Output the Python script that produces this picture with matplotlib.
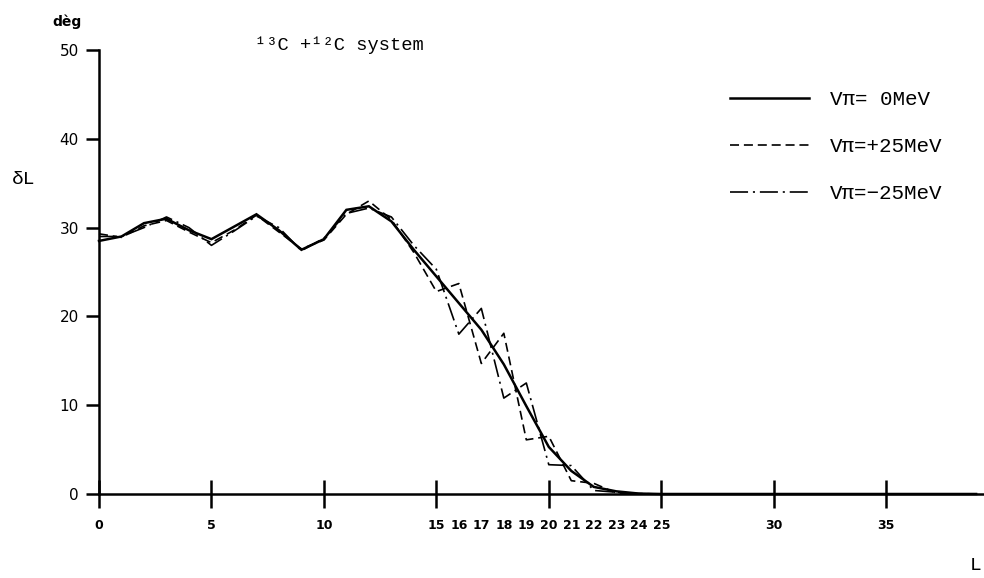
import matplotlib
matplotlib.use("Agg")
import matplotlib.pyplot as plt

plt.rcParams['lines.scale_dashes'] = False

# ---------------- data ----------------
L_values = list(range(0, 40))

delta_v0 = [28.5, 29.0, 30.5, 31.0, 29.7, 28.7, 30.1, 31.5, 29.7, 27.5,
            28.7, 32.0, 32.4, 30.7, 27.5, 24.5, 21.5, 18.5, 14.6, 9.9,
            5.3, 2.6, 0.8, 0.3, 0.05] + [0.0] * 15

delta_vp25 = [29.3, 28.9, 30.2, 30.8, 29.5, 28.3, 29.7, 31.4, 29.5, 27.6,
              28.6, 31.5, 33.0, 30.9, 27.2, 22.8, 23.7, 14.7, 18.1, 6.1,
              6.5, 1.5, 1.2, 0.1, 0.05] + [0.0] * 15

delta_vm25 = [29.0, 29.0, 30.0, 31.2, 30.0, 28.0, 29.6, 31.3, 30.0, 27.4,
              28.8, 31.6, 32.2, 31.2, 28.0, 25.3, 18.0, 20.9, 10.8, 12.5,
              3.3, 3.2, 0.4, 0.2, 0.0] + [0.0] * 15

series_labels = ["Vπ= 0MeV", "Vπ=+25MeV", "Vπ=−25MeV"]

y_ticks = [0, 10, 20, 30, 40, 50]
x_major_ticks = [0, 5, 10, 15, 20, 25, 30, 35]
x_minor_ticks = [16, 17, 18, 19, 21, 22, 23, 24]

title_text = "¹³C +¹²C system"

# ---------------- figure ----------------
W, H = 984, 578
fig = plt.figure(figsize=(W / 100, H / 100), dpi=100)
ax = fig.add_axes([99 / W, 84 / H, 885 / W, 444 / H])
ax.set_xlim(0, 885 / 22.49)
ax.set_ylim(0, 50)

lw_axis = 1.8
for s in ["top", "right"]:
    ax.spines[s].set_visible(False)
for s in ["left", "bottom"]:
    ax.spines[s].set_linewidth(lw_axis)
ax.spines["left"].set_bounds(0, 50)

l1, = ax.plot(L_values, delta_v0, color="black", lw=1.8, clip_on=False,
              solid_joinstyle="miter")
l2, = ax.plot(L_values, delta_vp25, color="black", lw=1.2, clip_on=False,
              dashes=(6.5, 3.5))
l3, = ax.plot(L_values, delta_vm25, color="black", lw=1.2, clip_on=False,
              dashes=(13, 3.5, 1.5, 3.5))

ax.set_yticks(y_ticks)
ax.set_yticklabels([str(v) for v in y_ticks])
ax.tick_params(axis="y", direction="out", length=9.4, width=lw_axis, pad=5,
               labelsize=11)

ax.set_xticks(x_major_ticks)
ax.set_xticklabels([str(v) for v in x_major_ticks])
ax.set_xticks(x_minor_ticks, minor=True)
ax.set_xticklabels([str(v) for v in x_minor_ticks], minor=True)
ax.tick_params(axis="x", which="major", direction="inout", length=20,
               width=lw_axis, pad=8, labelsize=9)
ax.tick_params(axis="x", which="minor", direction="inout", length=0,
               pad=18, labelsize=9)
for t in ax.get_xticklabels(which="both"):
    t.set_fontweight("bold")

mono = "Liberation Mono"
# title
fig.text(255 / W, 1 - 45 / H, title_text, family=mono, fontsize=13.5,
         ha="left", va="center")
# axis labels
fig.text(12 / W, 1 - 180 / H, "δL", family=mono, fontsize=14,
         ha="left", va="center")
fig.text(52 / W, 1 - 22 / H, "dèg", family="DejaVu Sans", fontsize=10,
         fontweight="bold", ha="left", va="center")
fig.text(970 / W, 1 - 566 / H, "L", family=mono, fontsize=14,
         ha="left", va="center")

# legend
leg = ax.legend([l1, l2, l3], series_labels, loc="upper left",
                bbox_to_anchor=(730 / W, 1 - 90 / H),
                bbox_transform=fig.transFigure, frameon=False,
                prop={"family": mono, "size": 15}, handlelength=3.8,
                handletextpad=1.0, labelspacing=1.35, borderpad=0,
                borderaxespad=0)

fig.savefig("out.png", dpi=100)
